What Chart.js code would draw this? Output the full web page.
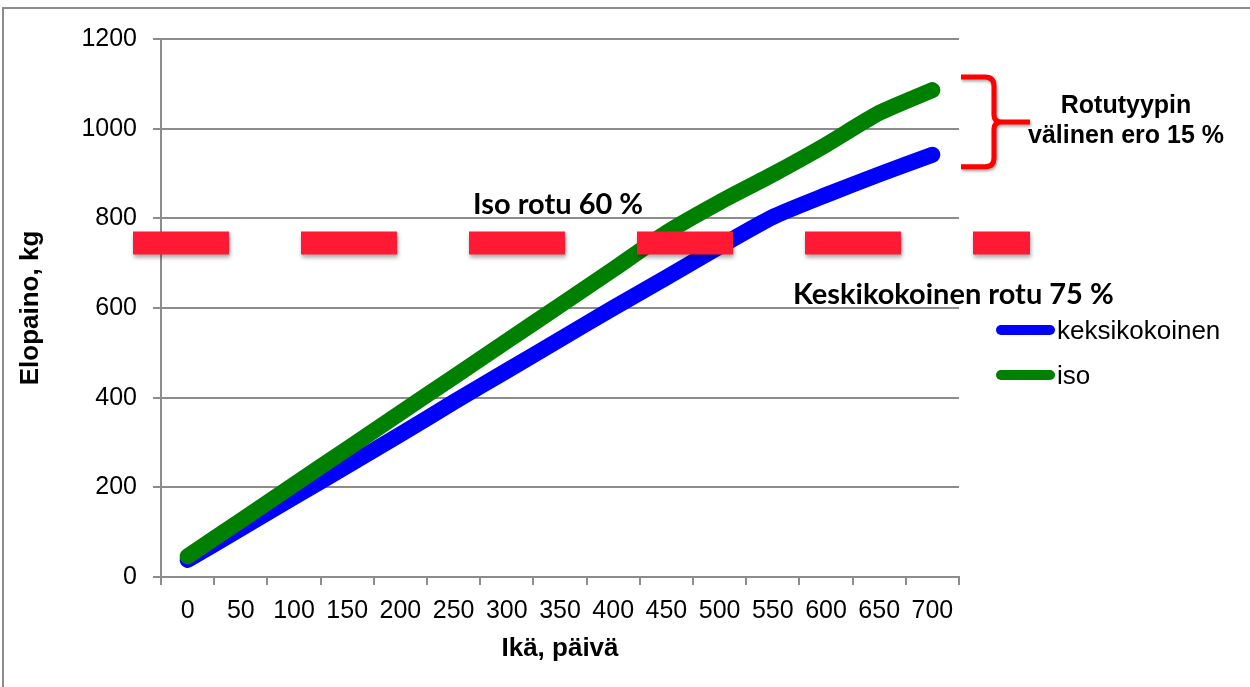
<!DOCTYPE html>
<html>
<head>
<meta charset="utf-8">
<title>Elopaino</title>
<script src="https://cdn.jsdelivr.net/npm/chart.js@4.4.1/dist/chart.umd.min.js"></script>
<style>
  html, body { margin: 0; padding: 0; background: #fff; }
  #wrap { position: relative; width: 1250px; height: 687px; }
</style>
</head>
<body>
<div id="wrap"><canvas id="weightChart"></canvas></div>
<script>
// Age categories (days) and live weight (kg) per breed type
const ageDays = ['0', '50', '100', '150', '200', '250', '300', '350', '400', '450', '500', '550', '600', '650', '700'];
const mediumBreed = [38, 108, 178, 248, 318, 390, 460, 530, 600, 668, 737, 803, 852, 898, 942];
const largeBreed = [46, 126, 206, 286, 366, 446, 526, 606, 686, 768, 836, 898, 964, 1035, 1086];

// Weight axis range
const weightMin = 0;
const weightMax = 1200;
const weightStep = 200;

// Slaughter-weight reference level and the breed-gap bracket (kg)
const targetLevel = 745;
const gapRange = [915, 1115];

const GRID = '#8c8c8c';
const SANS = "'Liberation Sans', Arial, sans-serif";

// --- extra drawing: outer frame, dashed target band, bracket, notes, legend ---
const extras = {
  id: 'extras',
  beforeDraw(chart) {
    const { ctx, width, height } = chart;
    ctx.save();
    ctx.fillStyle = '#fff';
    ctx.fillRect(0, 0, width, height);
    ctx.strokeStyle = GRID;
    ctx.lineWidth = 2;
    ctx.beginPath();
    ctx.moveTo(3, height);
    ctx.lineTo(3, 8);
    ctx.lineTo(width, 8);
    ctx.stroke();
    ctx.restore();
  },
  afterDatasetsDraw(chart) {
    const { ctx, chartArea, scales: { y } } = chart;
    const lineY = y.getPixelForValue(targetLevel);

    // thick red dashed band
    ctx.save();
    ctx.shadowColor = 'rgba(0,0,0,0.35)';
    ctx.shadowBlur = 4;
    ctx.shadowOffsetX = 1;
    ctx.shadowOffsetY = 3;
    ctx.strokeStyle = '#ff1a33';
    ctx.lineWidth = 23;
    ctx.lineCap = 'butt';
    ctx.setLineDash([96, 72]);
    ctx.beginPath();
    ctx.moveTo(chartArea.left - 28, lineY);
    ctx.lineTo(chartArea.right + 71, lineY);
    ctx.stroke();
    ctx.restore();

    // bracket between the two end weights
    const top = y.getPixelForValue(gapRange[1]);
    const bot = y.getPixelForValue(gapRange[0]);
    const mid = (top + bot) / 2;
    const L = chartArea.right + 2, S = chartArea.right + 35, T = chartArea.right + 71;
    ctx.save();
    ctx.shadowColor = 'rgba(0,0,0,0.35)';
    ctx.shadowBlur = 3;
    ctx.shadowOffsetX = 1;
    ctx.shadowOffsetY = 2;
    ctx.strokeStyle = '#ff0000';
    ctx.lineWidth = 5;
    ctx.lineJoin = 'round';
    ctx.beginPath();
    ctx.moveTo(L, top);
    ctx.lineTo(S - 9, top);
    ctx.quadraticCurveTo(S, top, S, top + 9);
    ctx.lineTo(S, mid - 7);
    ctx.quadraticCurveTo(S, mid, S + 8, mid);
    ctx.lineTo(T, mid);
    ctx.moveTo(S + 8, mid);
    ctx.quadraticCurveTo(S, mid, S, mid + 7);
    ctx.lineTo(S, bot - 9);
    ctx.quadraticCurveTo(S, bot, S - 9, bot);
    ctx.lineTo(L, bot);
    ctx.stroke();
    ctx.restore();

    // notes
    ctx.save();
    ctx.fillStyle = '#000';
    ctx.textBaseline = 'alphabetic';
    ctx.font = "bold 29px Lato, 'Open Sans', sans-serif";
    ctx.textAlign = 'left';
    ctx.fillText('Iso rotu 60 %', 473, lineY - 29);
    ctx.fillText('Keskikokoinen rotu 75 %', 793, lineY + 61);

    ctx.font = 'bold 25px ' + SANS;
    ctx.textAlign = 'center';
    ctx.fillText('Rotutyypin', 1126, mid - 9);
    ctx.fillText('välinen ero 15 %', 1126, mid + 21);
    ctx.restore();

    // legend
    ctx.save();
    ctx.font = '26px ' + SANS;
    ctx.textAlign = 'left';
    ctx.textBaseline = 'alphabetic';
    chart.data.datasets.forEach((ds, i) => {
      const ly = 330 + i * 45;
      ctx.strokeStyle = ds.borderColor;
      ctx.lineWidth = 10;
      ctx.lineCap = 'round';
      ctx.beginPath();
      ctx.moveTo(1001, ly);
      ctx.lineTo(1050, ly);
      ctx.stroke();
      ctx.fillStyle = '#000';
      ctx.fillText(ds.label, 1057, ly + 9);
    });
    ctx.restore();
  }
};

new Chart(document.getElementById('weightChart'), {
  type: 'line',
  data: {
    labels: ageDays,
    datasets: [
      {
        label: 'keksikokoinen',
        data: mediumBreed,
        borderColor: '#0000ff',
        backgroundColor: '#0000ff',
        borderWidth: 16,
        pointRadius: 0,
        borderCapStyle: 'round',
        borderJoinStyle: 'round',
        tension: 0.2,
        order: 1
      },
      {
        label: 'iso',
        data: largeBreed,
        borderColor: '#008000',
        backgroundColor: '#008000',
        borderWidth: 16,
        pointRadius: 0,
        borderCapStyle: 'round',
        borderJoinStyle: 'round',
        tension: 0.2,
        order: 0
      }
    ]
  },
  options: {
    responsive: true,
    maintainAspectRatio: false,
    animation: false,
    devicePixelRatio: 1,
    layout: { padding: { top: 39, right: 291, bottom: 0, left: 0 } },
    plugins: {
      legend: { display: false },
      tooltip: { enabled: false }
    },
    scales: {
      x: {
        offset: true,
        ticks: {
          color: '#000',
          font: { family: SANS, size: 25 },
          padding: 11,
          maxRotation: 0,
          autoSkip: false
        },
        grid: { offset: true, drawOnChartArea: false, color: GRID, lineWidth: 2, tickLength: 8 },
        border: { color: GRID, width: 2 },
        title: {
          display: true,
          text: 'Ikä, päivä',
          color: '#000',
          font: { family: SANS, size: 26, weight: 'bold' },
          padding: { top: 0, bottom: 23 }
        },
        afterFit(scale) { scale.height = 110; }
      },
      y: {
        min: weightMin,
        max: weightMax,
        ticks: {
          stepSize: weightStep,
          color: '#000',
          font: { family: SANS, size: 25 },
          padding: 16,
          callback: (v) => String(v)
        },
        grid: { color: GRID, lineWidth: 2, tickLength: 8 },
        border: { color: GRID, width: 2 },
        title: {
          display: true,
          text: 'Elopaino, kg',
          color: '#000',
          font: { family: SANS, size: 26, weight: 'bold' },
          padding: { top: 15, bottom: 0 }
        },
        afterFit(scale) { scale.width = 161; }
      }
    }
  },
  plugins: [extras]
});
</script>
</body>
</html>
